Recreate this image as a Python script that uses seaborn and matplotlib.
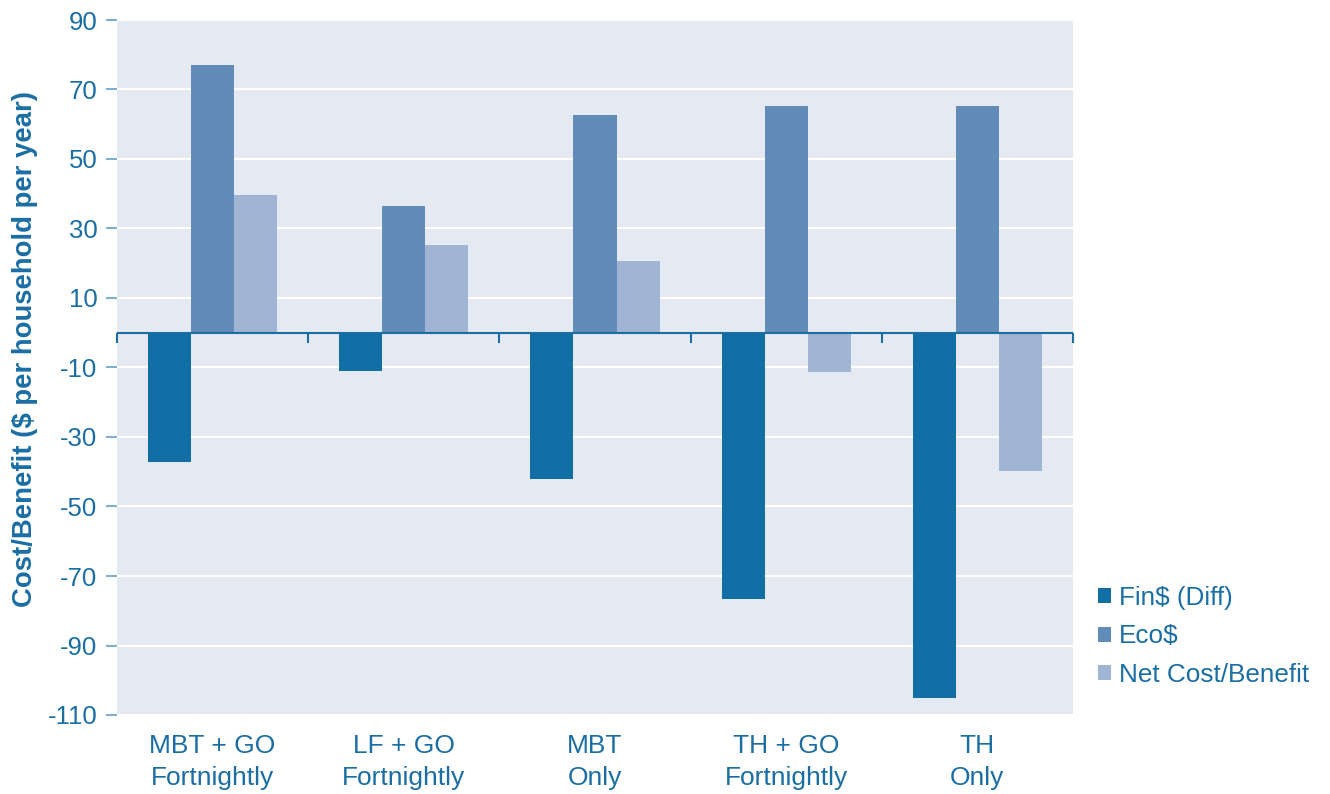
import matplotlib
matplotlib.use("Agg")
import matplotlib.pyplot as plt
import seaborn as sns
import pandas as pd
import numpy as np

categories = ["MBT + GO\nFortnightly", "LF + GO\nFortnightly", "MBT\nOnly", "TH + GO\nFortnightly", "TH\nOnly"]
series_names = ["Fin$ (Diff)", "Eco$", "Net Cost/Benefit"]
fin_diff = [-37.3, -11.1, -42.2, -76.7, -105.2]
eco = [77.0, 36.4, 62.6, 65.2, 65.2]
net = [39.6, 25.2, 20.6, -11.4, -39.9]
y_ticks = list(range(-110, 91, 20))

colors = ["#116fa6", "#628cb8", "#a0b4d4"]
text_color = "#1a6ea4"
bg = "#e5e9f2"

rows = []
for name, vals in zip(series_names, [fin_diff, eco, net]):
    for c, v in zip(categories, vals):
        rows.append({"Category": c, "Series": name, "Value": v})
df = pd.DataFrame(rows)

sns.set_theme(style="white")
plt.rcParams["font.family"] = ["Liberation Sans", "DejaVu Sans"]

fig = plt.figure(figsize=(13.3, 7.94), dpi=100)
ax = fig.add_axes([117/1330, 1-715/794, (1073-117)/1330, (715-20)/794])
ax.set_facecolor(bg)

sns.barplot(data=df, x="Category", y="Value", hue="Series", palette=colors,
            order=categories, hue_order=series_names, width=0.675, gap=0,
            saturation=1, errorbar=None, ax=ax, zorder=3, linewidth=0)

ax.set_ylim(-110, 90)
ax.set_xlim(-0.5, len(categories) - 0.5)
ax.set_yticks(y_ticks)
ax.set_yticklabels([str(t) for t in y_ticks])
ax.grid(axis="y", color="white", linewidth=1.5, zorder=0)
ax.set_axisbelow(True)
for s in ax.spines.values():
    s.set_visible(False)

ax.tick_params(axis="y", colors="#7fb0d3", labelcolor=text_color, labelsize=18.5,
               length=8, width=1.5, pad=6, direction="out", left=True)
ax.tick_params(axis="x", labelcolor=text_color, labelsize=19, length=0, pad=14)
for lbl in ax.get_xticklabels():
    lbl.set_linespacing(1.4)
ax.set_xlabel("")
ax.set_ylabel("Cost/Benefit ($ per household per year)", color=text_color,
              fontsize=19.8, fontweight="bold")
ax.yaxis.set_label_coords(-0.083, 0.527)

# zero axis line with category boundary ticks
ax.axhline(0, color=text_color, linewidth=1.5, zorder=5)
zero_frac = (0 - (-110)) / 200
sec = ax.secondary_xaxis(zero_frac)
sec.xaxis.set_ticks_position("bottom")
sec.set_xticks(np.arange(-0.5, len(categories), 1.0))
sec.set_xticklabels([])
sec.tick_params(axis="x", which="both", direction="out", length=7, width=1.5,
                color=text_color, bottom=True, top=False)
for k in sec.spines:
    sec.spines[k].set_visible(False)

handles, labels = ax.get_legend_handles_labels()
if ax.legend_:
    ax.legend_.remove()
leg = ax.legend(handles, labels, loc="center left", bbox_to_anchor=(1.026, 0.113),
                frameon=False, fontsize=18.8, handlelength=0.5, handleheight=0.5,
                handletextpad=0.3, labelspacing=0.56, borderpad=0, borderaxespad=0)
for t in leg.get_texts():
    t.set_color(text_color)

fig.savefig("out.png", dpi=100)
